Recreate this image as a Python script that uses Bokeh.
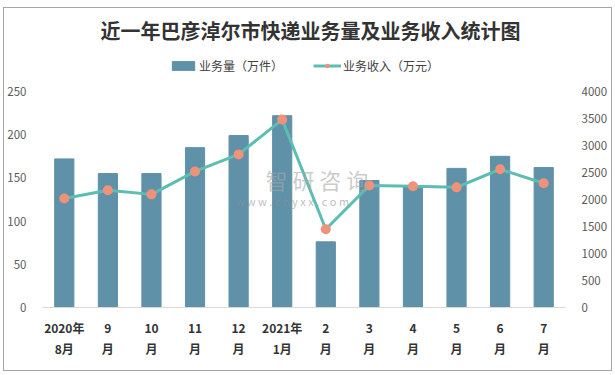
from bokeh.plotting import figure
from bokeh.models import (Range1d, LinearAxis, CategoricalAxis, FactorRange, FixedTicker, Legend, LegendItem,
                          Label, ColumnDataSource, CustomJSTickFormatter)
from bokeh.embed import file_html
from bokeh.resources import INLINE

months = ["2020年8月", "9月", "10月", "11月", "12月", "2021年1月", "2月", "3月", "4月", "5月", "6月", "7月"]
label_line1 = ["2020年", "9", "10", "11", "12", "2021年", "2", "3", "4", "5", "6", "7"]
label_line2 = ["8月", "月", "月", "月", "月", "1月", "月", "月", "月", "月", "月", "月"]
volume = [172, 155, 155, 185, 199, 222, 76, 147, 140, 161, 175, 162]      # 万件
revenue = [2020, 2170, 2095, 2520, 2835, 3480, 1450, 2260, 2245, 2225, 2560, 2300]  # 万元
left_ticks = [0, 50, 100, 150, 200, 250]
right_ticks = [0, 500, 1000, 1500, 2000, 2500, 3000, 3500, 4000]

FONT = "Noto Sans CJK SC"
W, H = 615, 375
BORDER_B = 68
FRAME_H = H - BORDER_B          # frame extends to the canvas top (title & legend drawn inside)
AXIS_PX = 216                   # pixel height of the 0..250 / 0..4000 scale
left_end = left_ticks[-1] * FRAME_H / AXIS_PX
right_end = right_ticks[-1] * FRAME_H / AXIS_PX

src = ColumnDataSource(dict(m=months, v=volume, r=revenue))

p = figure(width=W, height=H, output_backend="svg", toolbar_location=None,
           x_range=FactorRange(*months, range_padding=0), y_range=Range1d(0, left_end),
           min_border_left=42, min_border_right=50, min_border_top=0, min_border_bottom=BORDER_B,
           x_axis_location=None)
# thin grey frame around the whole chart (drawn as CSS background lines behind a transparent canvas)
g = "linear-gradient(#a6a6a6,#a6a6a6)"
p.styles = {"background": (f"{g} 3px 7px / 609px 1px no-repeat, {g} 3px 370px / 609px 1px no-repeat, "
                           f"{g} 3px 7px / 1px 364px no-repeat, {g} 611px 7px / 1px 364px no-repeat, #ffffff")}
p.border_fill_alpha = 0
p.background_fill_alpha = 0
p.outline_line_color = None
p.xgrid.grid_line_color = None
p.ygrid.grid_line_color = None
p.extra_y_ranges = {"rev": Range1d(0, right_end)}

bars = p.vbar(x="m", top="v", width=0.44, source=src, fill_color="#5f91a8", line_color="#5f91a8")
line = p.line(x="m", y="r", source=src, y_range_name="rev", line_color="#5cbdb2", line_width=3)
dots = p.scatter(x="m", y="r", source=src, y_range_name="rev", size=10, fill_color="#f0927a", line_color=None)

la = p.yaxis[0]
la.ticker = FixedTicker(ticks=left_ticks)
ra = LinearAxis(y_range_name="rev", ticker=FixedTicker(ticks=right_ticks))
p.add_layout(ra, "right")
for ax in (la, ra):
    ax.axis_line_color = None
    ax.major_tick_line_color = None
    ax.minor_tick_line_color = None
    ax.major_label_text_font = FONT
    ax.major_label_text_font_size = "11.5px"
    ax.major_label_text_color = "#595959"
    ax.major_label_standoff = 10

JS = "const i = m.indexOf(tick); return i >= 0 ? l[i] : tick;"
xa1 = CategoricalAxis(formatter=CustomJSTickFormatter(args=dict(m=months, l=label_line1), code=JS),
                      major_label_standoff=5)
xa2 = CategoricalAxis(formatter=CustomJSTickFormatter(args=dict(m=months, l=label_line2), code=JS),
                      major_label_standoff=-5)
xa1.axis_line_color = "#d9d9d9"
xa2.axis_line_color = None
for ax in (xa1, xa2):
    ax.major_tick_line_color = None
    ax.minor_tick_line_color = None
    ax.major_label_text_font = FONT
    ax.major_label_text_font_style = "bold"
    ax.major_label_text_font_size = "12px"
    ax.major_label_text_color = "#333333"
    p.add_layout(ax, "below")

# title
p.add_layout(Label(x=268, y=277, x_units="screen", y_units="screen",
                   text="近一年巴彦淖尔市快递业务量及业务收入统计图",
                   text_font=FONT, text_font_style="bold", text_font_size="20px", text_color="#333333",
                   text_align="center", text_baseline="middle"))

# watermark
p.add_layout(Label(x=223, y=129, x_units="screen", y_units="screen", text="智 研 咨 询",
                   text_font=FONT, text_font_size="22px", text_color="#a8a8a8", text_alpha=0.6,
                   text_align="left", text_baseline="middle"))
p.add_layout(Label(x=193, y=107, x_units="screen", y_units="screen", text="w w w . c h y x x . c o m",
                   text_font=FONT, text_font_size="11px", text_color="#909090", text_alpha=0.6,
                   text_align="left", text_baseline="middle"))

legend = Legend(items=[LegendItem(label="业务量（万件）", renderers=[bars]),
                       LegendItem(label="业务收入（万元）", renderers=[line, dots])],
                orientation="horizontal", location=(127, 233), padding=0, margin=0, spacing=30,
                glyph_width=28, glyph_height=11, label_standoff=2,
                label_text_font=FONT, label_text_font_size="12px", label_text_color="#404040",
                border_line_color=None, background_fill_alpha=0)
p.add_layout(legend, "center")

open("out.html", "w").write(file_html(p, INLINE))
